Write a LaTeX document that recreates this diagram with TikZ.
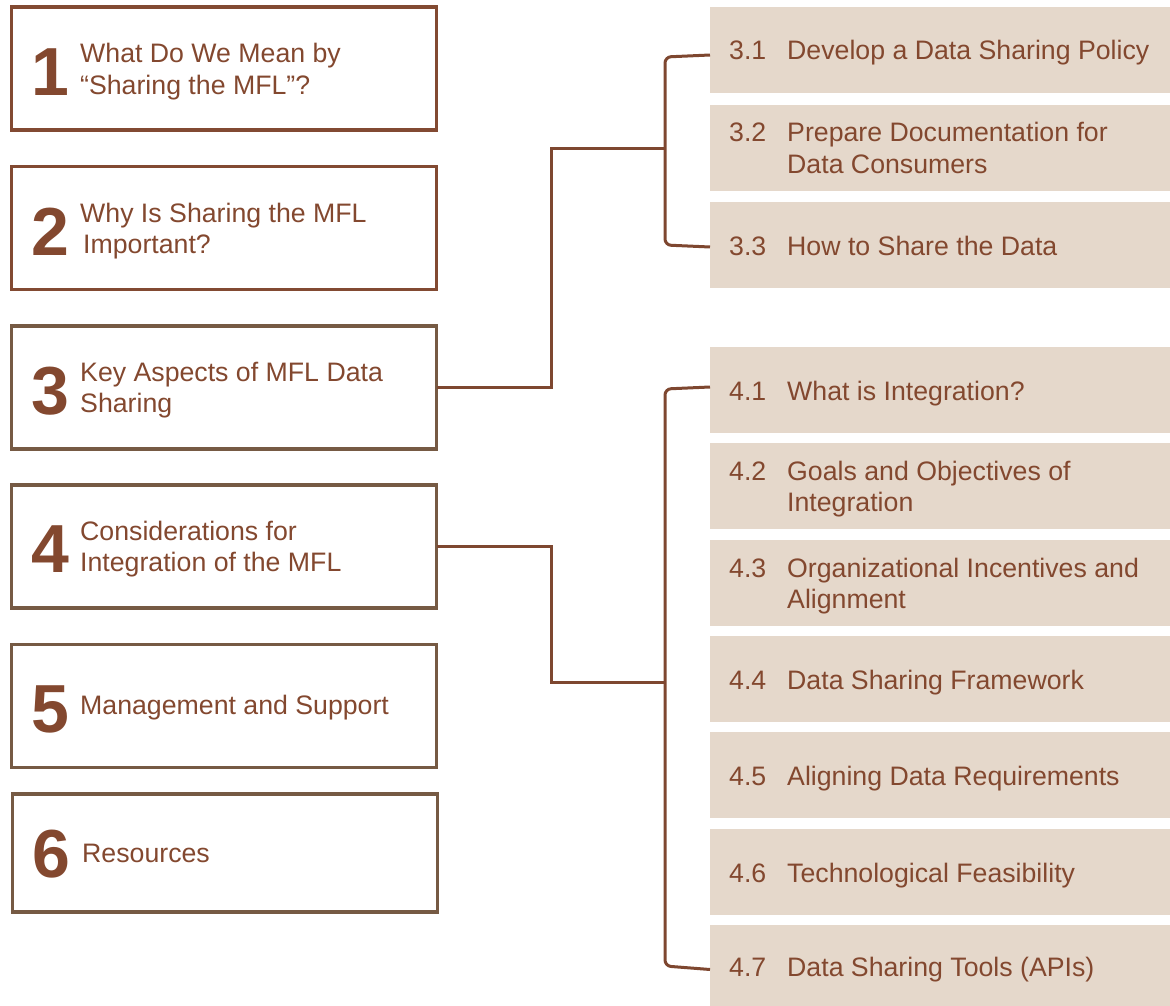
\documentclass[tikz,border=0pt]{standalone}
\usepackage{fontspec}
\setmainfont{Liberation Sans}
\usetikzlibrary{calc}
\definecolor{txt}{HTML}{83482F}
\definecolor{bordA}{HTML}{824A32}
\definecolor{bordB}{HTML}{765A44}
\definecolor{linec}{HTML}{7E4730}
\definecolor{subfill}{HTML}{E5D8CB}
\begin{document}
\begin{tikzpicture}[x=1pt,y=-1pt,
  lbox/.style={draw, line width=3.5pt, outer sep=0pt, minimum width=425pt, minimum height=123pt, inner sep=0pt, anchor=north west},
  rbox/.style={fill=subfill, draw=none, outer sep=0pt, minimum width=460pt, minimum height=86pt, inner sep=0pt, anchor=north west},
  bignum/.style={text=txt, inner sep=0pt, anchor=base west, font=\fontsize{68}{68}\selectfont\bfseries},
  lab/.style={text=txt, inner sep=0pt, anchor=base west, font=\fontsize{26.7}{31.5}\selectfont},
  conn/.style={draw=linec, line width=3pt}]
\useasboundingbox (0,0) rectangle (1170,1006);

% left boxes
\node[lbox, draw=bordA] (b1) at (11.5,7) {};
\node[lbox, draw=bordA] (b2) at (11.5,166.5) {};
\node[lbox, draw=bordB] (b3) at (11.5,326) {};
\node[lbox, draw=bordB] (b4) at (11.5,485) {};
\node[lbox, draw=bordB] (b5) at (11.5,644.5) {};
\node[lbox, draw=bordB, minimum height=118pt] (b6) at (12.5,794) {};

\node[bignum] (n1) at (31,96) {1};
\node[bignum] (n2) at (31,255) {2};
\node[bignum] (n3) at (31,414) {3};
\node[bignum] (n4) at (31,572) {4};
\node[bignum] (n5) at (31,732) {5};
\node[bignum] (n6) at (32,877) {6};

\node[lab] (t1) at (80,63) {\parbox[t]{350pt}{What Do We Mean by\\“Sharing the MFL”?}};
\node[lab] (t2) at (80,222) {\parbox[t]{350pt}{Why Is Sharing the MFL\\\hspace*{3pt}Important?}};
\node[lab] (t3) at (80,381) {\parbox[t]{350pt}{Key Aspects of MFL Data\\Sharing}};
\node[lab] (t4) at (80,540) {\parbox[t]{350pt}{Considerations for\\Integration of the MFL}};
\node[lab] (t5) at (80,714) {Management and Support};
\node[lab] (t6) at (82,862) {Resources};

% right boxes
\node[rbox] (s31) at (710,7) {};
\node[rbox] (s32) at (710,105) {};
\node[rbox] (s33) at (710,202) {};
\node[rbox] (s41) at (710,347) {};
\node[rbox] (s42) at (710,443) {};
\node[rbox] (s43) at (710,540) {};
\node[rbox] (s44) at (710,636) {};
\node[rbox] (s45) at (710,732) {};
\node[rbox] (s46) at (710,829) {};
\node[rbox] (s47) at (710,925) {};

\node[lab] (m31) at (729,60) {3.1};
\node[lab] (u31) at (787,60) {Develop a Data Sharing Policy};
\node[lab] (m32) at (729,142) {3.2};
\node[lab] (u32) at (787,142) {\parbox[t]{370pt}{Prepare Documentation for\\Data Consumers}};
\node[lab] (m33) at (729,255) {3.3};
\node[lab] (u33) at (787,255) {How to Share the Data};
\node[lab] (m41) at (729,400) {4.1};
\node[lab] (u41) at (787,400) {What is Integration?};
\node[lab] (m42) at (729,480) {4.2};
\node[lab] (u42) at (787,480) {\parbox[t]{370pt}{Goals and Objectives of\\Integration}};
\node[lab] (m43) at (729,577) {4.3};
\node[lab] (u43) at (787,577) {\parbox[t]{370pt}{Organizational Incentives and\\Alignment}};
\node[lab] (m44) at (729,689) {4.4};
\node[lab] (u44) at (787,689) {Data Sharing Framework};
\node[lab] (m45) at (729,785) {4.5};
\node[lab] (u45) at (787,785) {Aligning Data Requirements};
\node[lab] (m46) at (729,882) {4.6};
\node[lab] (u46) at (787,882) {Technological Feasibility};
\node[lab] (m47) at (729,976) {4.7};
\node[lab] (u47) at (787,976) {Data Sharing Tools (APIs)};

% connectors
\coordinate (k3) at (551,149);
\coordinate (j3) at (665,149);
\coordinate (k4) at (551,682);
\coordinate (j4) at (665,682);
\draw[conn] (b3.east) -| (k3) -- (j3);
\draw[conn] (b4.east) -| (k4) -- (j4);
\draw[conn, rounded corners=6pt] ($(s31.west)+(0,5)$) -- (665,57) -- (665,245) -- ($(s33.west)+(0,2)$);
\draw[conn, rounded corners=6pt] ($(s41.west)+(0,-3)$) -- (665,389) -- (665,966) -- ($(s47.west)+(0,1.5)$);
\end{tikzpicture}
\end{document}
